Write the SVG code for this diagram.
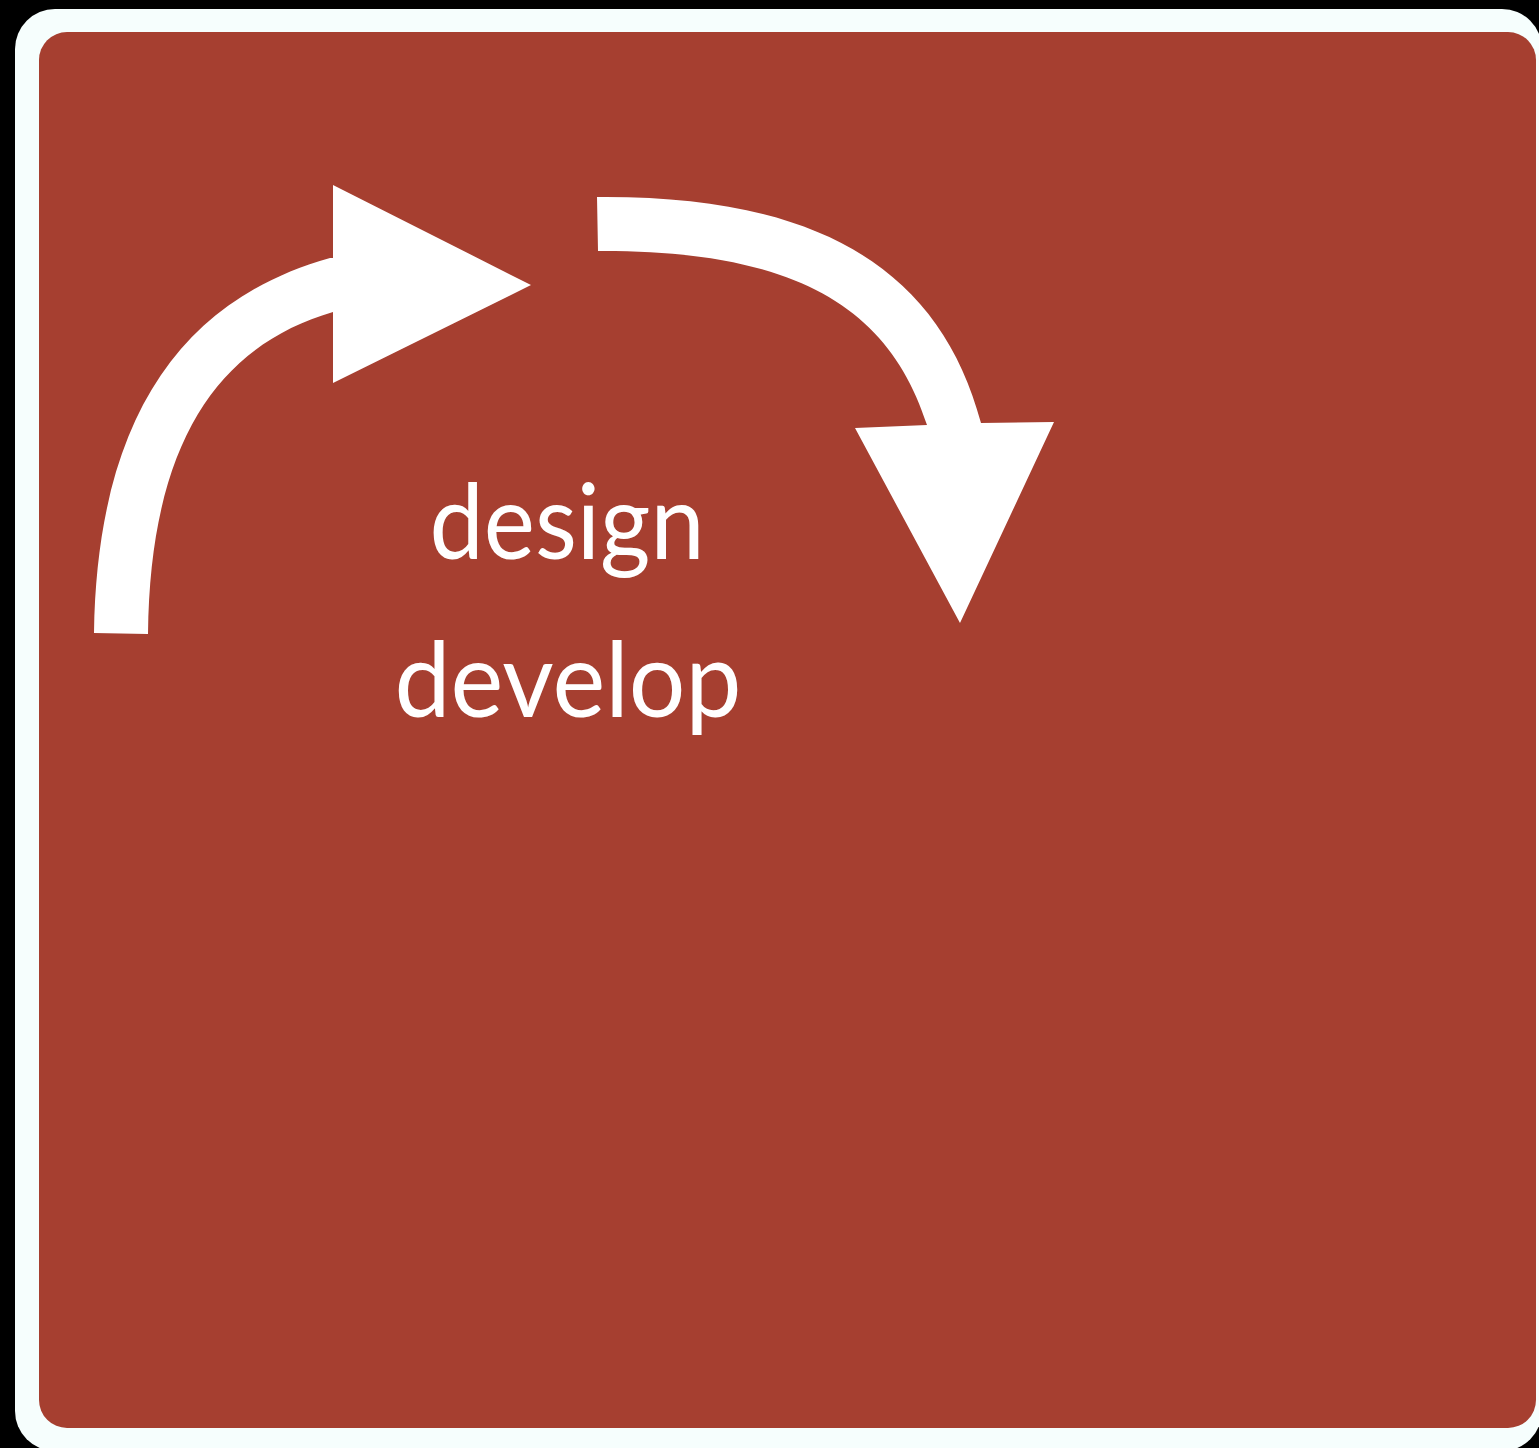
<svg xmlns="http://www.w3.org/2000/svg" width="1539" height="1448" viewBox="0 0 1539 1448">
<style>
.lbl{font-family:"Lato","Liberation Sans",sans-serif;font-size:104px;fill:#ffffff;text-anchor:middle}
.arrow{fill:#ffffff}
</style>
<rect x="0" y="0" width="1539" height="1448" fill="#000000"/>
<rect x="15" y="9" width="1527" height="1442" rx="40" fill="#F6FEFD"/>
<rect x="39" y="32" width="1497" height="1396" rx="28" fill="#A63F30"/>
<g id="connectors">
<path class="arrow" d="M94,633 C97,420 180,300 330,258 L333,258 L333,185 L531,285 L333,383 L333,312 C220,345 150,440 148,634 Z"/>
<path class="arrow" d="M597,197 C820,195 940,270 981,423 L1054,422 L960,623 L855,428 L927,425 C890,310 800,250 598,251 Z"/>
</g>
<g id="label-design"><text class="lbl" x="567" y="559" textLength="275" lengthAdjust="spacingAndGlyphs">design</text></g>
<g id="label-develop"><text class="lbl" x="568" y="717" textLength="347" lengthAdjust="spacingAndGlyphs">develop</text></g>
</svg>
